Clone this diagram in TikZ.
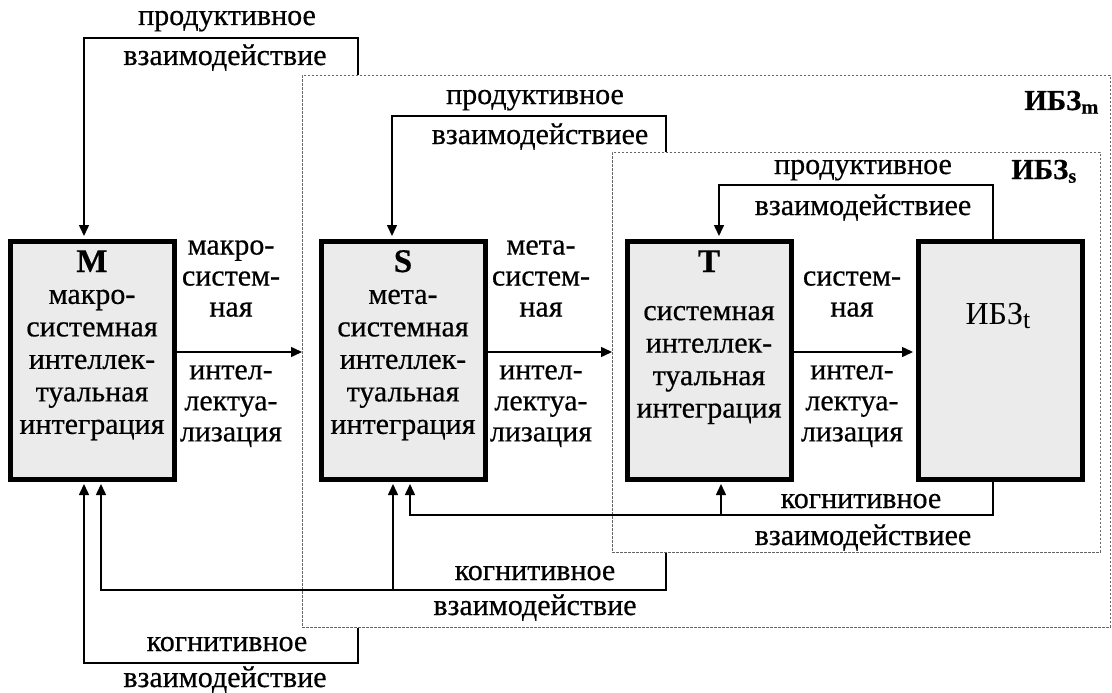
\documentclass[tikz,border=0pt]{standalone}
\usepackage{fontspec}
\setmainfont{Liberation Serif}[FakeBold=0.5]
\newfontfamily\plainserif{Liberation Serif}
\usetikzlibrary{arrows.meta}

\begin{document}
\begin{tikzpicture}[x=1pt,y=-1pt,
    blk/.style={draw,line width=5pt,fill=black!8,minimum width=164pt,minimum height=238pt,inner sep=0pt},
    zone/.style={draw=black!60,line width=0.9pt,dash pattern=on 2.4pt off 1.6pt,inner sep=0pt,anchor=north west},
    link/.style={line width=1.5pt,-{Triangle[length=11pt,width=10pt]},shorten >=2.5pt},
    txt/.style={font=\fontsize{30}{31}\selectfont,inner sep=0pt,align=center},
    lbl/.style={txt,anchor=base},
    head/.style={font=\fontsize{33}{33}\selectfont\bfseries,inner sep=0pt,anchor=base},
    tag/.style={font=\fontsize{29}{29}\selectfont\bfseries,inner sep=0pt,anchor=base east}]
  \useasboundingbox (0,0) rectangle (1112,693);
  % zones
  \node[zone,minimum width=808pt,minimum height=552pt] (IBZm) at (302,75) {};
  \node[zone,minimum width=488pt,minimum height=400pt] (IBZs) at (612,152) {};
  \node[tag] (tm) at (1099,110) {ИБЗ\textsubscript{m}};
  \node[tag] (ts) at (1077,179) {ИБЗ\textsubscript{s}};
  % blocks
  \node[blk] (M) at (92,360) {};
  \node[blk] (S) at (403,360) {};
  \node[blk] (T) at (709,360) {};
  \node[blk] (I) at (1000,360) {};
  \node[head] (Mh) at (92,272) {M};
  \node[head] (Sh) at (403,272) {S};
  \node[head] (Th) at (709,272) {T};
  \node[txt,font=\fontsize{30}{32.5}\selectfont] (Md) at (92,365) {макро-\\системная\\интеллек-\\туальная\\интеграция};
  \node[txt,font=\fontsize{30}{32.5}\selectfont] (Sd) at (403,365) {мета-\\системная\\интеллек-\\туальная\\интеграция};
  \node[txt,font=\fontsize{30}{32.5}\selectfont] (Td) at (709,365) {системная\\интеллек-\\туальная\\интеграция};
  \node[lbl,font=\plainserif\fontsize{32}{32}\selectfont] (Id) at (998,324) {ИБЗ\raisebox{-4pt}{\fontsize{26}{26}\selectfont t}};
  % forward links
  \coordinate (ar) at (0,352);
  \draw[link,shorten >=0pt] (M.east |- ar) -- (IBZm.west |- ar);
  \draw[link,shorten >=0pt] (S.east |- ar) -- (IBZs.west |- ar);
  \draw[link] (T.east |- ar) -- (I.west |- ar);
  \node[txt,anchor=south] (ms1) at (231,317) {макро-\\систем-\\ная};
  \node[txt,anchor=north] (ms2) at (231,365) {интел-\\лектуа-\\лизация};
  \node[txt,anchor=south] (st1) at (541,317) {мета-\\систем-\\ная};
  \node[txt,anchor=north] (st2) at (541,365) {интел-\\лектуа-\\лизация};
  \node[txt,anchor=south] (ti1) at (852,317) {систем-\\ная};
  \node[txt,anchor=north] (ti2) at (852,365) {интел-\\лектуа-\\лизация};
  % productive links (top)
  \coordinate (p1) at (358,38);  \coordinate (q1) at (84,38);
  \coordinate (p2) at (666,116); \coordinate (q2) at (392,116);
  \coordinate (p3) at (993,185); \coordinate (q3) at (719,185);
  \draw[link] (p1 |- IBZm.north) -- (p1) -- (q1) -- (q1 |- M.north);
  \draw[link] (p2 |- IBZs.north) -- (p2) -- (q2) -- (q2 |- S.north);
  \draw[link] (p3 |- I.north) -- (p3) -- (q3) -- (q3 |- T.north);
  \node[lbl] (pr1) at (227,25) {продуктивное};
  \node[lbl] (vz1) at (225,65) {взаимодействие};
  \node[lbl] (pr2) at (535,104) {продуктивное};
  \node[lbl] (vz2) at (540,144) {взаимодействиее};
  \node[lbl] (pr3) at (863,174) {продуктивное};
  \node[lbl] (vz3) at (863,215) {взаимодействиее};
  % cognitive links (bottom)
  \coordinate (c1) at (358,663); \coordinate (d1) at (84,663);
  \coordinate (c2) at (666,590); \coordinate (d2) at (101,590); \coordinate (e2) at (393,590);
  \coordinate (c3) at (993,515); \coordinate (d3) at (410,515); \coordinate (e3) at (721,515);
  \draw[link] (c1 |- IBZm.south) -- (c1) -- (d1) -- (d1 |- M.south);
  \draw[link] (c2 |- IBZs.south) -- (c2) -- (d2) -- (d2 |- M.south);
  \draw[link] (e2) -- (e2 |- S.south);
  \draw[link] (c3 |- I.south) -- (c3) -- (d3) -- (d3 |- S.south);
  \draw[link] (e3) -- (e3 |- T.south);
  \node[lbl] (kg3) at (861,508) {когнитивное};
  \node[lbl] (vk3) at (863,545) {взаимодействиее};
  \node[lbl] (kg2) at (535,580) {когнитивное};
  \node[lbl] (vk2) at (535,615) {взаимодействие};
  \node[lbl] (kg1) at (227,651) {когнитивное};
  \node[lbl] (vk1) at (225,687) {взаимодействие};
\end{tikzpicture}
\end{document}
